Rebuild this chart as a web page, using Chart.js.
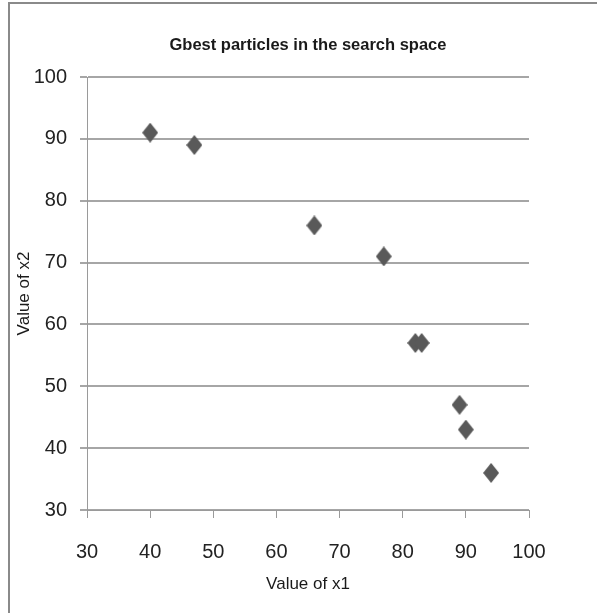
<!DOCTYPE html>
<html>
<head>
<meta charset="utf-8">
<script src="https://cdn.jsdelivr.net/npm/chart.js@4/dist/chart.umd.min.js"></script>
<style>
  html, body { margin: 0; padding: 0; background: #ffffff; }
  #wrap { width: 597px; height: 613px; }
</style>
</head>
<body>
<div id="wrap"><canvas id="c" width="597" height="613"></canvas></div>
<script>
// ---- data ----
const chartTitle = "Gbest particles in the search space";
const xAxisTitle = "Value of x1";
const yAxisTitle = "Value of x2";
const x1Values = [40, 47, 66, 77, 82, 83, 89, 90, 94];
const x2Values = [91, 89, 76, 71, 57, 57, 47, 43, 36];
const xTicks = [30, 40, 50, 60, 70, 80, 90, 100];
const yTicks = [30, 40, 50, 60, 70, 80, 90, 100];

const points = x1Values.map((x, i) => ({ x: x, y: x2Values[i] }));

// diamond marker (slightly taller than wide, as in the reference)
function makeDiamond(w, h, color) {
  const cv = document.createElement('canvas');
  cv.width = w; cv.height = h;
  const g = cv.getContext('2d');
  g.fillStyle = color;
  g.beginPath();
  g.moveTo(w / 2, 0);
  g.lineTo(w, h / 2);
  g.lineTo(w / 2, h);
  g.lineTo(0, h / 2);
  g.closePath();
  g.fill();
  return cv;
}
const marker = makeDiamond(16, 20, '#595959');

const frame = {
  id: 'frame',
  beforeDraw(chart) {
    const ctx = chart.ctx;
    ctx.save();
    ctx.fillStyle = '#ffffff';
    ctx.fillRect(0, 0, chart.width, chart.height);
    ctx.strokeStyle = '#8a8a8a';
    ctx.lineWidth = 2;
    ctx.beginPath();
    ctx.moveTo(9, chart.height);
    ctx.lineTo(9, 3);
    ctx.lineTo(chart.width, 3);
    ctx.stroke();
    ctx.restore();
  }
};

const FONT = "'Liberation Sans', Arial, sans-serif";

new Chart(document.getElementById('c'), {
  type: 'scatter',
  data: {
    datasets: [{
      data: points,
      pointStyle: marker,
      pointRadius: 9,
      backgroundColor: '#595959',
      borderColor: '#595959'
    }]
  },
  options: {
    responsive: false,
    animation: false,
    events: [],
    layout: { padding: { left: 0, right: 68, top: 0, bottom: 0 } },
    plugins: {
      legend: { display: false },
      tooltip: { enabled: false },
      title: {
        display: true,
        text: chartTitle,
        fullSize: false,
        color: '#1a1a1a',
        font: { family: FONT, size: 16.5, weight: 'bold' },
        padding: { top: 36, bottom: 21.2 }
      }
    },
    scales: {
      x: {
        type: 'linear',
        min: 30, max: 100,
        afterFit(s) { s.height = 103; },
        afterBuildTicks(s) { s.ticks = xTicks.map(v => ({ value: v })); },
        grid: { drawOnChartArea: false, drawTicks: true, tickLength: 8, color: '#9a9a9a', lineWidth: 1 },
        border: { display: true, color: '#9a9a9a', width: 1 },
        ticks: { color: '#222222', font: { family: FONT, size: 20 }, padding: 22, maxRotation: 0 },
        title: { display: true, text: xAxisTitle, color: '#1a1a1a', font: { family: FONT, size: 17 }, padding: { top: 0, bottom: 18 } }
      },
      y: {
        type: 'linear',
        min: 30, max: 100,
        afterFit(s) { s.width = 87; },
        afterBuildTicks(s) { s.ticks = yTicks.map(v => ({ value: v })); },
        grid: { drawOnChartArea: true, drawTicks: true, tickLength: 7, color: '#a6a6a6', lineWidth: 2 },
        border: { display: true, color: '#9a9a9a', width: 1 },
        ticks: { color: '#222222', font: { family: FONT, size: 20 }, padding: 13 },
        title: { display: true, text: yAxisTitle, color: '#1a1a1a', font: { family: FONT, size: 17 }, padding: { top: 14, bottom: 0 } }
      }
    }
  },
  plugins: [frame]
});
</script>
</body>
</html>
